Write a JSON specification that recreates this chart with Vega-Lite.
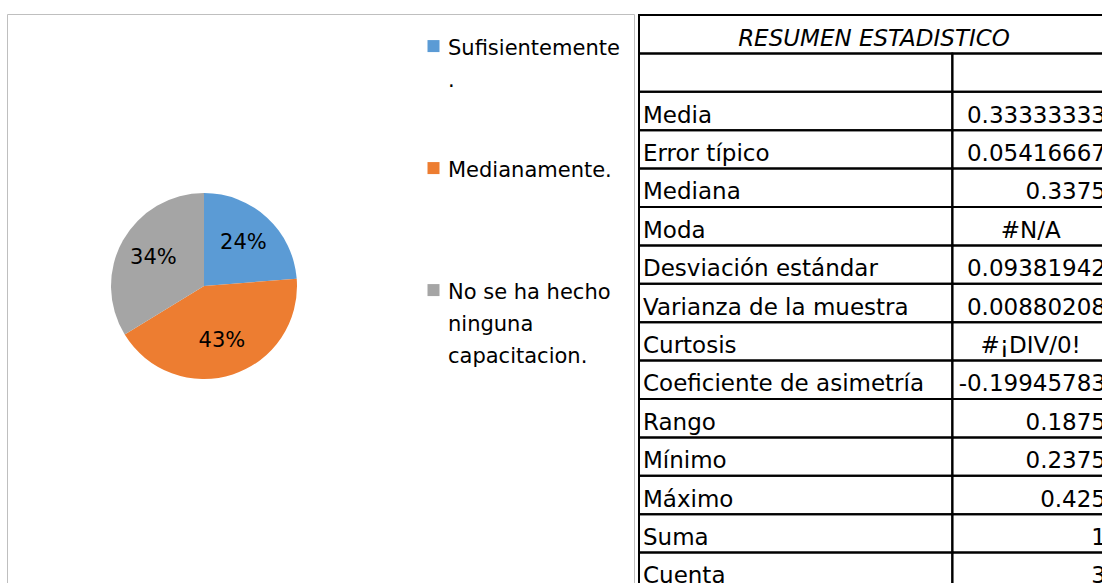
{
  "$schema": "https://vega.github.io/schema/vega-lite/v6.json",
  "padding": {"left": 6, "top": 13, "right": 0, "bottom": 0},
  "spacing": 2,
  "background": "white",
  "config": {
    "font": "DejaVu Sans",
    "style": {"guide-label": {"lineHeight": 32}}
  },
  "datasets": {
    "pastel": [
      {"categoria": "Sufisientemente.", "valor": 0.2375, "orden": 1},
      {"categoria": "Medianamente.", "valor": 0.425, "orden": 2},
      {"categoria": "No se ha hecho ninguna capacitacion.", "valor": 0.3375, "orden": 3}
    ],
    "resumen": [
      {"fila": 0, "titulo": "RESUMEN ESTADISTICO"},
      {"fila": 1},
      {"fila": 2, "etiqueta": "Media", "valor": "0.33333333"},
      {"fila": 3, "etiqueta": "Error típico", "valor": "0.05416667"},
      {"fila": 4, "etiqueta": "Mediana", "valor": "0.3375"},
      {"fila": 5, "etiqueta": "Moda", "error": "#N/A"},
      {"fila": 6, "etiqueta": "Desviación estándar", "valor": "0.09381942"},
      {"fila": 7, "etiqueta": "Varianza de la muestra", "valor": "0.00880208"},
      {"fila": 8, "etiqueta": "Curtosis", "error": "#¡DIV/0!"},
      {"fila": 9, "etiqueta": "Coeficiente de asimetría", "valor": "-0.19945783"},
      {"fila": 10, "etiqueta": "Rango", "valor": "0.1875"},
      {"fila": 11, "etiqueta": "Mínimo", "valor": "0.2375"},
      {"fila": 12, "etiqueta": "Máximo", "valor": "0.425"},
      {"fila": 13, "etiqueta": "Suma", "valor": "1"},
      {"fila": 14, "etiqueta": "Cuenta", "valor": "3"}
    ]
  },
  "hconcat": [
    {
      "width": 627,
      "height": 570,
      "view": {"stroke": "#bfbfbf", "strokeWidth": 1},
      "data": {"name": "pastel"},
      "encoding": {
        "theta": {"field": "valor", "type": "quantitative", "stack": true},
        "order": {"field": "orden", "type": "quantitative"},
        "color": {
          "field": "categoria",
          "type": "nominal",
          "scale": {
            "domain": ["Sufisientemente.", "Medianamente.", "No se ha hecho ninguna capacitacion."],
            "range": ["#5B9BD5", "#ED7D31", "#A5A5A5"]
          },
          "legend": {
            "orient": "none",
            "legendX": 416,
            "legendY": 13,
            "title": null,
            "padding": 0,
            "symbolType": "M-1,0.43H1V2.43H-1Z",
            "symbolSize": 144,
            "symbolStrokeWidth": 0,
            "labelFontSize": 21,
            "labelFont": "DejaVu Sans",
            "labelColor": "#000000",
            "labelOffset": 4,
            "labelBaseline": "top",
            "labelLimit": 400,
            "gridAlign": "all",
            "rowPadding": 26,
            "labelExpr": "datum.label == 'Sufisientemente.' ? ['Sufisientemente', '.'] : datum.label == 'No se ha hecho ninguna capacitacion.' ? ['No se ha hecho', 'ninguna', 'capacitacion.'] : datum.label"
          }
        }
      },
      "layer": [
        {"mark": {"type": "arc", "x": 197, "y": 272, "outerRadius": 93}},
        {
          "mark": {"type": "text", "x": 197, "y": 272, "radius": 58, "fontSize": 21, "font": "DejaVu Sans"},
          "encoding": {
            "text": {"field": "valor", "type": "quantitative", "format": ".0%"},
            "color": {"value": "#000000"}
          }
        }
      ]
    },
    {
      "width": 467,
      "height": 570,
      "view": {"stroke": null},
      "data": {"name": "resumen"},
      "encoding": {
        "y": {
          "field": "fila",
          "type": "ordinal",
          "scale": {"type": "band", "range": [1, 577], "paddingInner": 0, "paddingOuter": 0},
          "axis": null
        }
      },
      "layer": [
        {
          "transform": [{"filter": "datum.fila >= 1"}],
          "mark": {"type": "rect", "filled": false, "color": "#000000", "strokeWidth": 2, "clip": true},
          "encoding": {
            "x": {"datum": 0, "type": "quantitative", "scale": {"domain": [0, 3], "range": [2, 472], "zero": false, "nice": false}, "axis": null},
            "x2": {"datum": 2}
          }
        },
        {
          "transform": [{"filter": "datum.fila >= 1"}],
          "mark": {"type": "rect", "filled": false, "color": "#000000", "strokeWidth": 2, "clip": true},
          "encoding": {
            "x": {"datum": 2, "type": "quantitative", "scale": {"domain": [0, 3], "range": [2, 472], "zero": false, "nice": false}, "axis": null},
            "x2": {"datum": 3}
          }
        },
        {
          "transform": [{"filter": "datum.fila == 0"}],
          "mark": {"type": "rect", "filled": false, "color": "#000000", "strokeWidth": 2, "clip": true},
          "encoding": {
            "x": {"datum": 0, "type": "quantitative", "scale": {"domain": [0, 3], "range": [2, 472], "zero": false, "nice": false}, "axis": null},
            "x2": {"datum": 3}
          }
        },
        {
          "transform": [{"filter": "datum.fila == 0"}],
          "mark": {"type": "text", "align": "center", "baseline": "alphabetic", "fontSize": 23, "fontStyle": "italic", "color": "#000000", "clip": true},
          "encoding": {
            "x": {"datum": 1.5, "type": "quantitative", "scale": {"domain": [0, 3], "range": [2, 472], "zero": false, "nice": false}, "axis": null},
            "y": {"field": "fila", "type": "ordinal", "bandPosition": 0.8},
            "text": {"field": "titulo"}
          }
        },
        {
          "transform": [{"filter": "isValid(datum.etiqueta)"}],
          "mark": {"type": "text", "align": "left", "baseline": "alphabetic", "fontSize": 23, "dx": 4, "color": "#000000", "clip": true},
          "encoding": {
            "x": {"datum": 0, "type": "quantitative", "scale": {"domain": [0, 3], "range": [2, 472], "zero": false, "nice": false}, "axis": null},
            "y": {"field": "fila", "type": "ordinal", "bandPosition": 0.8},
            "text": {"field": "etiqueta"}
          }
        },
        {
          "transform": [{"filter": "isValid(datum.valor)"}],
          "mark": {"type": "text", "align": "right", "baseline": "alphabetic", "fontSize": 23, "dx": -3, "color": "#000000", "clip": true},
          "encoding": {
            "x": {"datum": 3, "type": "quantitative", "scale": {"domain": [0, 3], "range": [2, 472], "zero": false, "nice": false}, "axis": null},
            "y": {"field": "fila", "type": "ordinal", "bandPosition": 0.8},
            "text": {"field": "valor"}
          }
        },
        {
          "transform": [{"filter": "isValid(datum.error)"}],
          "mark": {"type": "text", "align": "center", "baseline": "alphabetic", "fontSize": 23, "color": "#000000", "clip": true},
          "encoding": {
            "x": {"datum": 2.5, "type": "quantitative", "scale": {"domain": [0, 3], "range": [2, 472], "zero": false, "nice": false}, "axis": null},
            "y": {"field": "fila", "type": "ordinal", "bandPosition": 0.8},
            "text": {"field": "error"}
          }
        }
      ]
    }
  ]
}
